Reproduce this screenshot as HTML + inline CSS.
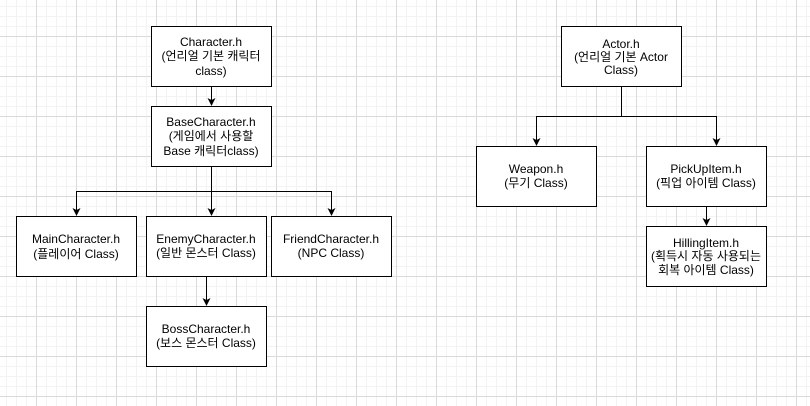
<!DOCTYPE html>
<html><head><meta charset="utf-8"><style>
html,body{margin:0;padding:0;}
body{width:810px;height:406px;overflow:hidden;background:#fff;
background-image:
linear-gradient(to right,#dadada 1px,transparent 1px),
linear-gradient(to bottom,#dadada 1px,transparent 1px),
linear-gradient(to right,#f3f3f3 1px,transparent 1px),
linear-gradient(to bottom,#f3f3f3 1px,transparent 1px);
background-size:40px 40px,40px 40px,10px 10px,10px 10px;
background-position:36px 36px,36px 36px,6px 6px,6px 6px;}
svg{position:absolute;left:0;top:0;}
text{font-family:"Liberation Sans","Noto Sans CJK KR",sans-serif;font-size:12px;fill:#000;text-anchor:middle;}
</style></head><body>
<svg width="810" height="406" viewBox="0 0 810 406">
<defs><marker id="a" markerWidth="8" markerHeight="8" refX="7" refY="4" orient="auto" markerUnits="userSpaceOnUse"><path d="M0,0 L8,4 L0,8 L2,4 z" fill="#000"/></marker></defs>
<g stroke="#000" stroke-width="1" fill="none">
<path d="M211.5 86 V105" marker-end="url(#a)"/>
<path d="M211.5 166 V215" marker-end="url(#a)"/>
<path d="M76.5 191.5 H331.5"/>
<path d="M76.5 191 V215" marker-end="url(#a)"/>
<path d="M331.5 191 V215" marker-end="url(#a)"/>
<path d="M206.5 276 V305" marker-end="url(#a)"/>
<path d="M621.5 86 V116.5"/>
<path d="M536.5 116.5 H716.5"/>
<path d="M536.5 116 V145" marker-end="url(#a)"/>
<path d="M716.5 116 V145" marker-end="url(#a)"/>
<path d="M706.5 206 V225" marker-end="url(#a)"/>
</g>
<g stroke="#000" stroke-width="1" fill="#fff">
<rect x="151.5" y="26.5" width="120" height="60"/>
<rect x="151.5" y="106.5" width="120" height="60"/>
<rect x="16.5" y="216.5" width="120" height="60"/>
<rect x="146.5" y="216.5" width="120" height="60"/>
<rect x="271.5" y="216.5" width="120" height="60"/>
<rect x="146.5" y="306.5" width="120" height="60"/>
<rect x="561.5" y="26.5" width="120" height="60"/>
<rect x="476.5" y="146.5" width="120" height="60"/>
<rect x="646.5" y="146.5" width="120" height="60"/>
<rect x="646.5" y="226.5" width="120" height="60"/>
</g>
<text x="211" y="46">Character.h</text><text x="211" y="60">(언리얼 기본 캐릭터</text><text x="211" y="75">class)</text>
<text x="211" y="126">BaseCharacter.h</text><text x="211" y="140">(게임에서 사용할</text><text x="211" y="155">Base 캐릭터class)</text>
<text x="76" y="243">MainCharacter.h</text><text x="76" y="258">(플레이어 Class)</text>
<text x="206" y="243">EnemyCharacter.h</text><text x="206" y="257">(일반 몬스터 Class)</text>
<text x="331" y="243">FriendCharacter.h</text><text x="331" y="257">(NPC Class)</text>
<text x="206" y="333">BossCharacter.h</text><text x="206" y="347">(보스 몬스터 Class)</text>
<text x="621" y="48">Actor.h</text><text x="621" y="61">(언리얼 기본 Actor</text><text x="621" y="74">Class)</text>
<text x="536" y="173">Weapon.h</text><text x="536" y="187">(무기 Class)</text>
<text x="706" y="173">PickUpItem.h</text><text x="706" y="187">(픽업 아이템 Class)</text>
<text x="706" y="247">HillingItem.h</text><text x="706" y="260">(획득시 자동 사용되는</text><text x="706" y="274">회복 아이템 Class)</text>
</svg>
</body></html>
